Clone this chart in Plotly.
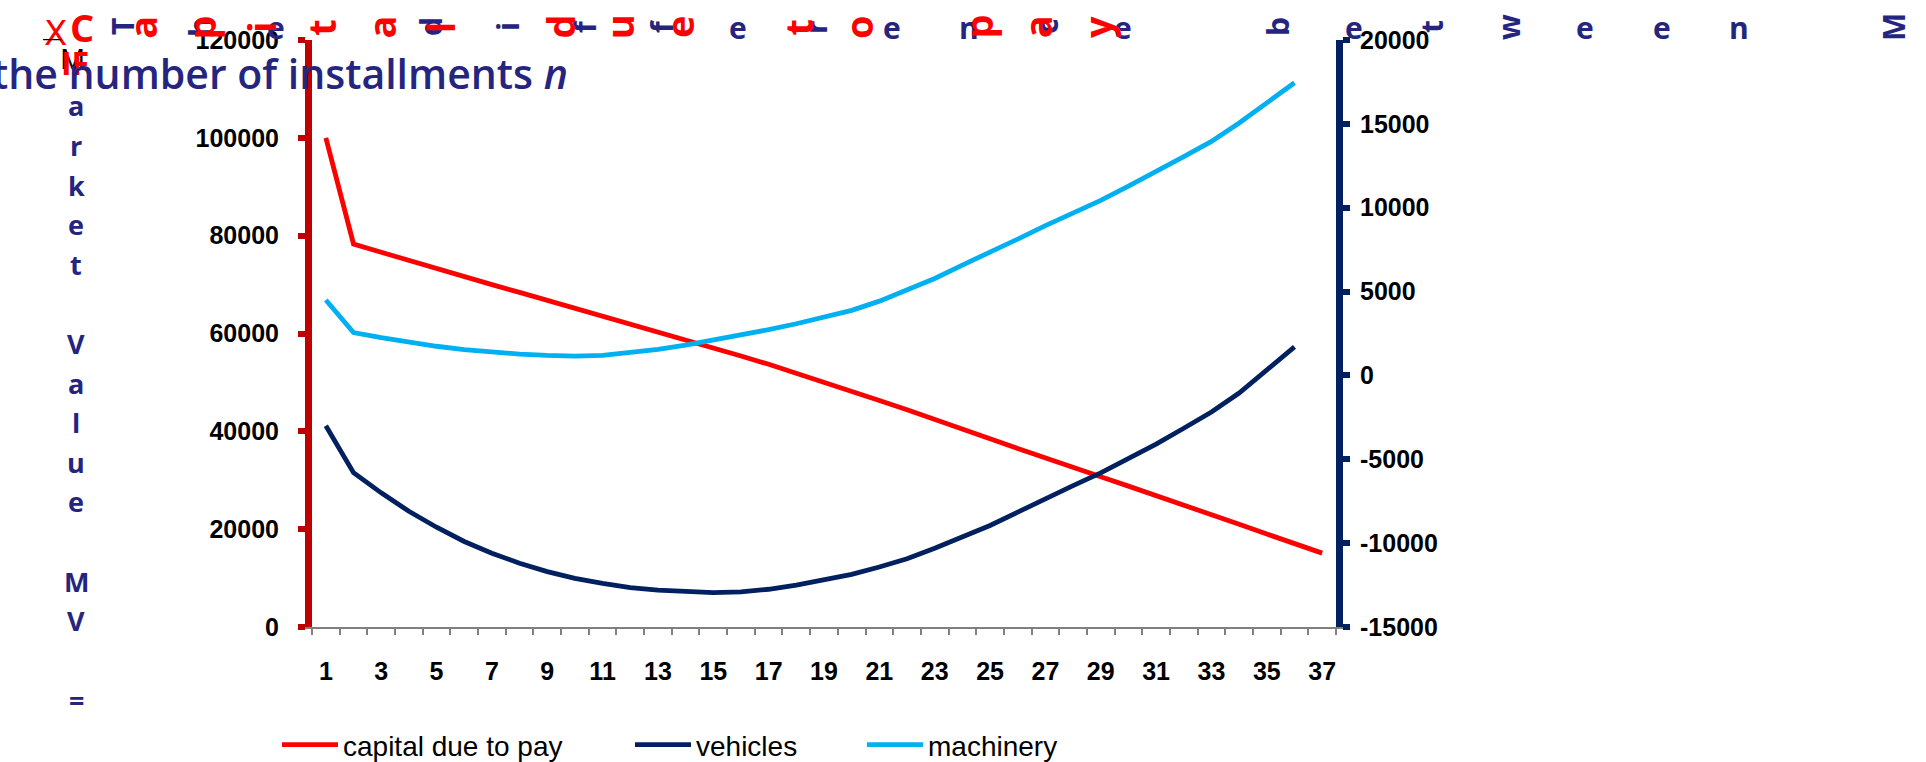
import plotly.graph_objects as go

# ---------------- data ----------------
installments = list(range(1, 38))
capital_due = [100000, 78300, 76600, 74900, 73200, 71600, 70000, 68400, 66800, 65200,
               63500, 61900, 60300, 58700, 57100, 55400, 53700, 51900, 50100, 48200,
               46300, 44400, 42500, 40500, 38500, 36500, 34500, 32600, 30700, 28800,
               26900, 25000, 23000, 21000, 19000, 17000, 15100]
vehicles = [-3000, -5800, -7000, -8100, -9050, -9900, -10600, -11200, -11700, -12100,
            -12400, -12650, -12800, -12900, -12950, -12900, -12750, -12500, -12200, -11860,
            -11420, -10930, -10300, -9620, -8950, -8150, -7325, -6570, -5814, -4970,
            -4100, -3150, -2180, -1050, 300, 1700]
machinery = [4500, 2550, 2250, 1980, 1740, 1540, 1390, 1270, 1190, 1150,
             1190, 1340, 1550, 1810, 2100, 2420, 2730, 3080, 3480, 3880,
             4430, 5080, 5780, 6580, 7330, 8130, 8930, 9690, 10440, 11290,
             12140, 13040, 13950, 15050, 16250, 17450]
x_tick_values = list(range(1, 38, 2))
x_tick_labels = [str(v) for v in x_tick_values]
left_ticks = [0, 20000, 40000, 60000, 80000, 100000, 120000]
right_ticks = [-15000, -10000, -5000, 0, 5000, 10000, 15000, 20000]
series_names = ["capital due to pay", "vehicles", "machinery"]

title_red = "Capital due to pay"
title_blue = "The difference between M"
title_vertical = "arket Value MV ="
title_line2 = "the number of installments "
title_var = "n"

# ---------------- layout geometry ----------------
W, H = 1926, 762
PL, PR, PT, PB = 312, 1336, 40, 627


def px(x):
    return (x - PL) / (PR - PL)


def py(y):
    return (PB - y) / (PB - PT)


RED = "#FF0000"
NAVY = "#002060"
CYAN = "#00B0F0"
AXRED = "#C00000"
TITLE = "#25257F"
TICKFONT = dict(family="Liberation Sans, Arial", size=25, color="black", weight="bold")

fig = go.Figure()
fig.add_trace(go.Scatter(x=installments, y=capital_due, name=series_names[0], mode="lines",
                         line=dict(color=RED, width=4.8), legend="legend"))
fig.add_trace(go.Scatter(x=installments[:len(vehicles)], y=vehicles, name=series_names[1],
                         mode="lines", yaxis="y2", line=dict(color=NAVY, width=4.8),
                         legend="legend2"))
fig.add_trace(go.Scatter(x=installments[:len(machinery)], y=machinery, name=series_names[2],
                         mode="lines", yaxis="y2", line=dict(color=CYAN, width=4.8),
                         legend="legend3"))

legend_common = dict(orientation="h", xanchor="left", yanchor="middle",
                     bgcolor="rgba(0,0,0,0)", itemwidth=56,
                     font=dict(family="Liberation Sans, Arial", size=28, color="black"))
legend_y = py(745)

annotations = []
# blue rotated letters (top row)
for i, ch in enumerate(title_blue):
    if ch == " ":
        continue
    annotations.append(dict(x=px(122 + 77 * i), y=py(27), xref="paper", yref="paper",
                            text=ch, showarrow=False, xanchor="center", yanchor="middle",
                            textangle=0 if ch in "en" else -90,
                            font=dict(family="Open Sans", size=30, color=TITLE, weight="bold")))
# red rotated letters (top row)
for i, ch in enumerate(title_red):
    if ch == " ":
        continue
    annotations.append(dict(x=px(82 + 59.7 * i), y=py(27), xref="paper", yref="paper",
                            text=ch, showarrow=False, xanchor="center", yanchor="middle",
                            textangle=0 if ch == "C" else -90,
                            font=dict(family="Open Sans", size=38, color=RED, weight="bold")))
# vertical column of letters
for i, ch in enumerate(title_vertical):
    if ch == " ":
        continue
    annotations.append(dict(x=px(76), y=py(106 + 39.6 * i), xref="paper", yref="paper",
                            text=ch, showarrow=False, xanchor="center", yanchor="middle",
                            font=dict(family="Open Sans", size=27, color=TITLE, weight="bold")))
# stray fragments at top-left
annotations.append(dict(x=px(72), y=py(58), xref="paper", yref="paper", text="M",
                        showarrow=False, xanchor="center", yanchor="middle",
                        font=dict(family="Open Sans", size=28, color="black")))
annotations.append(dict(x=px(75), y=py(62), xref="paper", yref="paper", text="IF",
                        showarrow=False, xanchor="center", yanchor="middle",
                        font=dict(family="Open Sans", size=32, color=RED, weight="bold")))
annotations.append(dict(x=px(55), y=py(33), xref="paper", yref="paper", text="X",
                        showarrow=False, xanchor="center", yanchor="middle",
                        font=dict(family="DejaVu Sans", size=34, color=RED, weight="normal")))
annotations.append(dict(x=px(52), y=py(38), xref="paper", yref="paper", text="—",
                        showarrow=False, xanchor="center", yanchor="middle",
                        font=dict(family="DejaVu Sans", size=20, color="black")))
# second title line
annotations.append(dict(x=px(-10), y=py(73), xref="paper", yref="paper",
                        text=title_line2 + "<i>" + title_var + "</i>",
                        showarrow=False, xanchor="left", yanchor="middle",
                        font=dict(family="Open Sans", size=41, color=TITLE, weight=600)))

fig.update_layout(
    width=W, height=H, autosize=False,
    margin=dict(l=PL, r=W - PR, t=PT, b=H - PB, pad=0, autoexpand=False),
    paper_bgcolor="white", plot_bgcolor="white",
    showlegend=True,
    legend=dict(x=px(277), y=legend_y, **legend_common),
    legend2=dict(x=px(630), y=legend_y, **legend_common),
    legend3=dict(x=px(862), y=legend_y, **legend_common),
    xaxis=dict(range=[0.5, 37.5], tickmode="array", tickvals=x_tick_values,
               ticktext=x_tick_labels, ticks="", showgrid=False, zeroline=False,
               showline=True, linecolor="#808080", linewidth=2, automargin=False,
               tickfont=TICKFONT, ticklabelstandoff=21,
               minor=dict(tickmode="array", tickvals=[k + 0.5 for k in range(0, 38)],
                          ticks="outside", ticklen=6, tickwidth=1.5, tickcolor="#808080",
                          showgrid=False)),
    yaxis=dict(range=[0, 120000], tickmode="array", tickvals=left_ticks,
               ticktext=[str(v) for v in left_ticks], ticks="outside", ticklen=7,
               tickwidth=6, tickcolor=AXRED, showline=True, linewidth=7, linecolor=AXRED,
               showgrid=False, zeroline=False, tickfont=TICKFONT, ticklabelstandoff=14,
               automargin=False),
    yaxis2=dict(range=[-15000, 20000], overlaying="y", side="right", tickmode="array",
                tickvals=right_ticks, ticktext=[str(v) for v in right_ticks],
                ticks="outside", ticklen=7, tickwidth=6, tickcolor=NAVY, showline=True,
                linewidth=7, linecolor=NAVY, showgrid=False, zeroline=False,
                tickfont=TICKFONT, ticklabelstandoff=5, automargin=False),
    annotations=annotations,
)

fig.write_html("out.html")
